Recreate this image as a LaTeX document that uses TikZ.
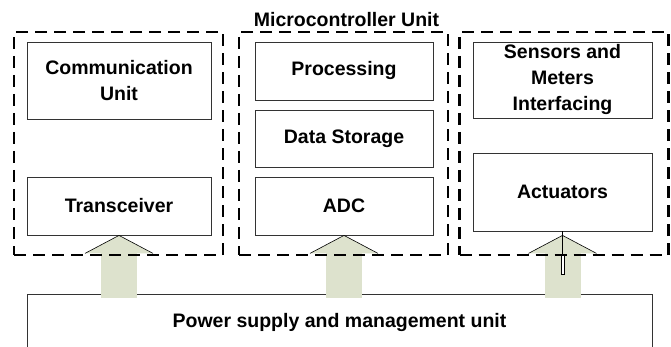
\documentclass[tikz,border=0pt]{standalone}
\usepackage{fontspec}
\setmainfont{Liberation Sans}
\usetikzlibrary{positioning}

\begin{document}
\begin{tikzpicture}[x=1pt, y=-1pt,
    font=\fontsize{19.5}{26}\selectfont\bfseries,
    block/.style={draw=black!80, line width=0.8pt, align=center, inner sep=0pt},
    group/.style={draw, line width=2.8pt, dash pattern=on 12pt off 7pt, inner sep=0pt},
    arrowbody/.style={fill=arrowgreen}]
    \definecolor{arrowgreen}{RGB}{221,226,205}
    \useasboundingbox (0,0) rectangle (671,347);

    \node (power) [block, minimum width=625pt, minimum height=56pt] at (339.5,322) {Power supply and management unit};

    \node (comm)  [block, minimum width=184pt, minimum height=77pt] at (119,80.5) {Communication\\Unit};
    \node (trans) [block, minimum width=184pt, minimum height=58pt] at (119,206) {Transceiver};
    \node (proc)  [block, minimum width=178pt, minimum height=58pt] at (344,71) {Processing};
    \node (store) [block, minimum width=178pt, minimum height=57pt] at (344,138.5) {Data Storage};
    \node (adc)   [block, minimum width=178pt, minimum height=58pt] at (344,206) {ADC};
    \node (sens)  [block, minimum width=179pt, minimum height=76pt] at (562.5,80) {Sensors and\\Meters\\Interfacing};
    \node (act)   [block, minimum width=179pt, minimum height=78pt] at (562.5,192) {Actuators};

    \foreach \t in {trans, adc, act} {
      \coordinate (tip) at (\t.south |- trans.south);
      \fill[arrowbody] ([shift={(-18,18)}]tip) rectangle ([shift={(18,63)}]tip);
      \filldraw[arrowbody, draw=black, line width=0.6pt] ([shift={(-34,18)}]tip) -- (tip) -- ([shift={(34,18)}]tip);
    }
    \draw[line width=0.6pt] (act.south) -- ++(0,24);
    \draw[line width=0.6pt, fill=white] ([shift={(-1.3,24)}]act.south) rectangle ++(2.6,19);

    \node (commgrp) [group, minimum width=209pt, minimum height=223pt] at (118.5,143.5) {};
    \node (mcu)     [group, minimum width=209pt, minimum height=223pt] at (343.5,143.5) {};
    \node (iogrp)   [group, minimum width=209pt, minimum height=223pt] at (564,143.5) {};
    \node (mcutitle) [anchor=base, inner sep=0pt] at ([shift={(3,-4)}]mcu.north) {Microcontroller Unit};
\end{tikzpicture}
\end{document}
